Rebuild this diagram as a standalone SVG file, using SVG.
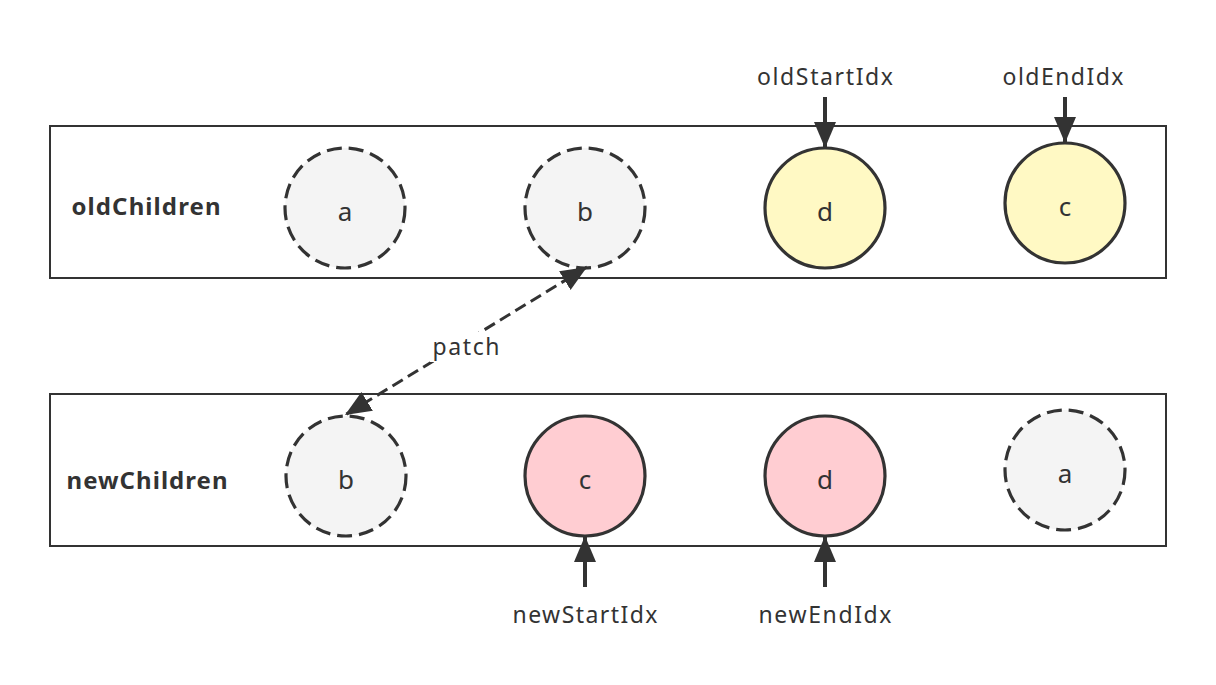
<svg xmlns="http://www.w3.org/2000/svg" width="1216" height="685" viewBox="0 0 1216 685">
<style>
.box{fill:#fff;stroke:#333;stroke-width:2}
.nd{stroke:#333;stroke-width:3.2}
.dash{stroke-dasharray:15 7}
.gray{fill:#f4f4f4}
.yel{fill:#fff9c4}
.pink{fill:#ffcdd2}
.lt{font-family:"Noto Sans","Liberation Sans",sans-serif;font-size:23px;fill:#333;text-anchor:middle}
.ct{font-family:"Noto Sans","Liberation Sans",sans-serif;font-size:26px;fill:#333;text-anchor:middle}
.bt{font-family:"Noto Sans","Liberation Sans",sans-serif;font-size:24px;font-weight:bold;fill:#333;text-anchor:middle}
.ptr{stroke:#333;stroke-width:4;fill:none}
</style>
<defs>
<marker id="ah" markerUnits="userSpaceOnUse" markerWidth="28" markerHeight="24" refX="26" refY="11" orient="auto">
<path d="M0,0 L26,11 L0,22 z" fill="#333"/>
</marker>
<marker id="ahs" markerUnits="userSpaceOnUse" markerWidth="28" markerHeight="24" refX="26" refY="11" orient="auto-start-reverse">
<path d="M0,0 L26,11 L0,22 z" fill="#333"/>
</marker>
</defs>
<rect width="1216" height="685" fill="#fff"/>
<g id="oldChildren"><rect class="box" x="50" y="126" width="1116" height="152"/><text class="bt" x="146" y="215" textLength="149">oldChildren</text></g>
<g id="newChildren"><rect class="box" x="50" y="394" width="1116" height="152"/><text class="bt" x="147" y="489" textLength="161">newChildren</text></g>
<g id="old-a"><circle class="nd dash gray" cx="345" cy="208" r="60"/><text class="ct" x="345" y="221">a</text></g>
<g id="old-b"><circle class="nd dash gray" cx="585" cy="208" r="60"/><text class="ct" x="585" y="221">b</text></g>
<g id="old-d"><circle class="nd yel" cx="825" cy="208" r="60"/><text class="ct" x="825" y="221">d</text></g>
<g id="old-c"><circle class="nd yel" cx="1065" cy="203" r="60"/><text class="ct" x="1065" y="216">c</text></g>
<g id="new-b"><circle class="nd dash gray" cx="346" cy="476" r="60"/><text class="ct" x="346" y="489">b</text></g>
<g id="new-c"><circle class="nd pink" cx="585" cy="476" r="60"/><text class="ct" x="585" y="489">c</text></g>
<g id="new-d"><circle class="nd pink" cx="825" cy="476" r="60"/><text class="ct" x="825" y="489">d</text></g>
<g id="new-a"><circle class="nd dash gray" cx="1065" cy="470" r="60"/><text class="ct" x="1065" y="483">a</text></g>
<g id="oldStartIdx"><text class="lt" x="825" y="85" textLength="136">oldStartIdx</text></g>
<g id="oldEndIdx"><text class="lt" x="1063" y="85" textLength="121">oldEndIdx</text></g>
<g id="newStartIdx"><text class="lt" x="585" y="623" textLength="145">newStartIdx</text></g>
<g id="newEndIdx"><text class="lt" x="825" y="623" textLength="133">newEndIdx</text></g>
<g id="connectors">
<line class="ptr" x1="825" y1="97" x2="825" y2="148" marker-end="url(#ah)"/>
<line class="ptr" x1="1065" y1="97" x2="1065" y2="143" marker-end="url(#ah)"/>
<line class="ptr" x1="585" y1="587" x2="585" y2="536" marker-end="url(#ah)"/>
<line class="ptr" x1="825" y1="587" x2="825" y2="536" marker-end="url(#ah)"/>
<line x1="587" y1="267" x2="345" y2="415" stroke="#333" stroke-width="3" stroke-dasharray="12 6" marker-start="url(#ahs)" marker-end="url(#ahs)"/>
<rect x="430" y="332" width="72" height="30" fill="#fff"/>
<text class="lt" x="466" y="355" textLength="67">patch</text>
</g>
</svg>
